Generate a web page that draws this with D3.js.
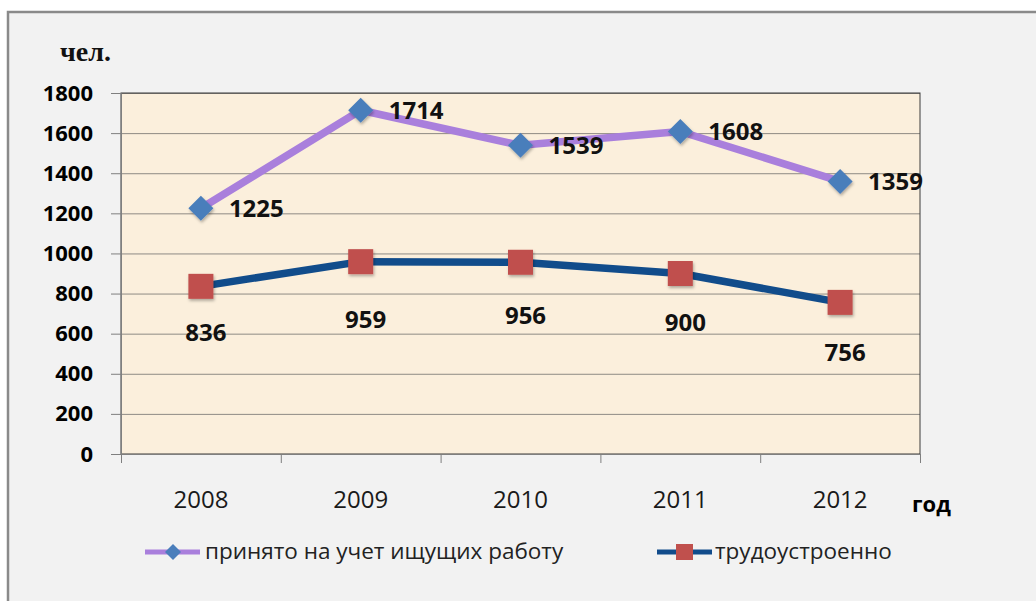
<!DOCTYPE html>
<html>
<head>
<meta charset="utf-8">
<script src="https://cdn.jsdelivr.net/npm/d3@7"></script>
<style>
  body { margin: 0; background: #fff; }
</style>
</head>
<body>
<div id="chart"></div>
<script>
const years = ["2008", "2009", "2010", "2011", "2012"];
const registered = [1225, 1714, 1539, 1608, 1359];
const employed = [836, 959, 956, 900, 756];
const yTicks = [0, 200, 400, 600, 800, 1000, 1200, 1400, 1600, 1800];
const seriesNames = ["принято на учет ищущих работу", "трудоустроенно"];
const yTitle = "чел.";
const xTitle = "год";

const width = 1036;
const height = 601;
const plotLeft = 121, plotRight = 920, plotTop = 93, plotBottom = 454;

const svg = d3.select("#chart")
  .append("svg")
  .attr("width", width)
  .attr("height", height)
  .attr("font-family", "'Open Sans', sans-serif");

const defs = svg.append("defs");
defs.append("filter")
  .attr("id", "shadow")
  .attr("x", "-50%").attr("y", "-50%")
  .attr("width", "200%").attr("height", "200%")
  .append("feDropShadow")
  .attr("dx", 1).attr("dy", 2)
  .attr("stdDeviation", 1.5)
  .attr("flood-color", "#000")
  .attr("flood-opacity", 0.3);

// outer frame
svg.append("rect")
  .attr("x", 8).attr("y", 12)
  .attr("width", width + 20).attr("height", height + 20)
  .attr("fill", "#f2f2f2")
  .attr("stroke", "#8a8a8a")
  .attr("stroke-width", 2.5);

const x = d3.scaleBand()
  .domain(years)
  .range([plotLeft, plotRight]);

const y = d3.scaleLinear()
  .domain([0, 1800])
  .range([plotBottom, plotTop]);

const cx = d => x(d) + x.bandwidth() / 2;

// plot background
svg.append("rect")
  .attr("x", plotLeft).attr("y", plotTop)
  .attr("width", plotRight - plotLeft).attr("height", plotBottom - plotTop)
  .attr("fill", "#fbefdc");

// gridlines
svg.append("g")
  .attr("transform", `translate(${plotLeft},0)`)
  .call(d3.axisLeft(y).tickValues(yTicks).tickSize(-(plotRight - plotLeft)).tickFormat(""))
  .call(g => g.select(".domain").remove())
  .selectAll("line")
  .attr("stroke", "#8e8a84");

// plot border
svg.append("rect")
  .attr("x", plotLeft).attr("y", plotTop)
  .attr("width", plotRight - plotLeft).attr("height", plotBottom - plotTop)
  .attr("fill", "none")
  .attr("stroke", "#3a3a3a")
  .attr("stroke-width", 1);

// y axis
const yAxis = svg.append("g")
  .attr("transform", `translate(${plotLeft},0)`)
  .call(d3.axisLeft(y).tickValues(yTicks).tickSize(10).tickPadding(18).tickFormat(d3.format("d")));
yAxis.select(".domain").attr("stroke", "#7f7f7f");
yAxis.selectAll("line").attr("stroke", "#7f7f7f");
yAxis.selectAll("text")
  .attr("font-family", "'Open Sans', sans-serif")
  .attr("font-size", 22)
  .attr("font-weight", "bold")
  .attr("fill", "#000");

// x axis: ticks at category boundaries
const xb = d3.scaleLinear().domain([0, years.length]).range([plotLeft, plotRight]);
const xTicks = svg.append("g")
  .attr("transform", `translate(0,${plotBottom})`)
  .call(d3.axisBottom(xb).ticks(years.length).tickSize(9).tickFormat(""));
xTicks.select(".domain").attr("stroke", "#7f7f7f");
xTicks.selectAll("line").attr("stroke", "#7f7f7f");

const xAxis = svg.append("g")
  .attr("transform", `translate(0,${plotBottom})`)
  .call(d3.axisBottom(x).tickSize(0).tickPadding(37));
xAxis.select(".domain").remove();
xAxis.selectAll("text")
  .attr("font-family", "'Open Sans', sans-serif")
  .attr("font-size", 24)
  .attr("fill", "#1a1a1a");

// axis titles
svg.append("text")
  .attr("x", 60).attr("y", 61)
  .attr("font-family", "'Liberation Serif', 'Times New Roman', serif")
  .attr("font-size", 28)
  .attr("font-weight", "bold")
  .attr("fill", "#111")
  .text(yTitle);

svg.append("text")
  .attr("x", 912).attr("y", 512)
  .attr("font-size", 22)
  .attr("font-weight", "bold")
  .attr("fill", "#000")
  .text(xTitle);

const line = d3.line()
  .x((d, i) => cx(years[i]))
  .y(d => y(d));

svg.append("path")
  .datum(registered)
  .attr("d", line)
  .attr("fill", "none")
  .attr("stroke", "#a97fdc")
  .attr("stroke-width", 7.5)
  .attr("stroke-linejoin", "round");

svg.append("path")
  .datum(employed)
  .attr("d", line)
  .attr("fill", "none")
  .attr("stroke", "#114c8b")
  .attr("stroke-width", 7.5)
  .attr("stroke-linejoin", "round");

const diamond = s => `M0,${-s}L${s},0L0,${s}L${-s},0Z`;

svg.append("g")
  .selectAll("path")
  .data(registered)
  .join("path")
  .attr("transform", (d, i) => `translate(${cx(years[i])},${y(d)})`)
  .attr("d", diamond(12.5))
  .attr("fill", "#4a7ebb")
  .attr("filter", "url(#shadow)");

const sq = 25;
svg.append("g")
  .selectAll("rect")
  .data(employed)
  .join("rect")
  .attr("x", (d, i) => cx(years[i]) - sq / 2)
  .attr("y", d => y(d) - sq / 2)
  .attr("width", sq)
  .attr("height", sq)
  .attr("fill", "#c0504d")
  .attr("filter", "url(#shadow)");

// data labels
svg.append("g")
  .selectAll("text")
  .data(registered)
  .join("text")
  .attr("x", (d, i) => cx(years[i]) + 28)
  .attr("y", d => y(d))
  .attr("dy", "0.36em")
  .attr("font-size", 24)
  .attr("font-weight", "bold")
  .attr("fill", "#111")
  .text(d => d);

// labels below the squares were nudged by hand in the original
const employedDy = [46, 58, 53, 49, 50];
svg.append("g")
  .selectAll("text")
  .data(employed)
  .join("text")
  .attr("x", (d, i) => cx(years[i]) + 5)
  .attr("y", (d, i) => y(d) + employedDy[i])
  .attr("dy", "0.36em")
  .attr("text-anchor", "middle")
  .attr("font-size", 24)
  .attr("font-weight", "bold")
  .attr("fill", "#111")
  .text(d => d);

// legend
const legend = svg.append("g").attr("transform", "translate(0,552)");

legend.append("line")
  .attr("x1", 145).attr("x2", 200)
  .attr("stroke", "#a97fdc").attr("stroke-width", 5);
legend.append("path")
  .attr("transform", "translate(173,0)")
  .attr("d", diamond(8))
  .attr("fill", "#4a7ebb");
legend.append("text")
  .attr("x", 205).attr("dy", "0.32em")
  .attr("font-size", 22.5)
  .attr("fill", "#222")
  .text(seriesNames[0]);

legend.append("line")
  .attr("x1", 657).attr("x2", 712)
  .attr("stroke", "#114c8b").attr("stroke-width", 5);
legend.append("rect")
  .attr("x", 676).attr("y", -8)
  .attr("width", 17).attr("height", 16)
  .attr("fill", "#c0504d");
legend.append("text")
  .attr("x", 715).attr("dy", "0.32em")
  .attr("font-size", 22.5)
  .attr("fill", "#222")
  .text(seriesNames[1]);
</script>
</body>
</html>
